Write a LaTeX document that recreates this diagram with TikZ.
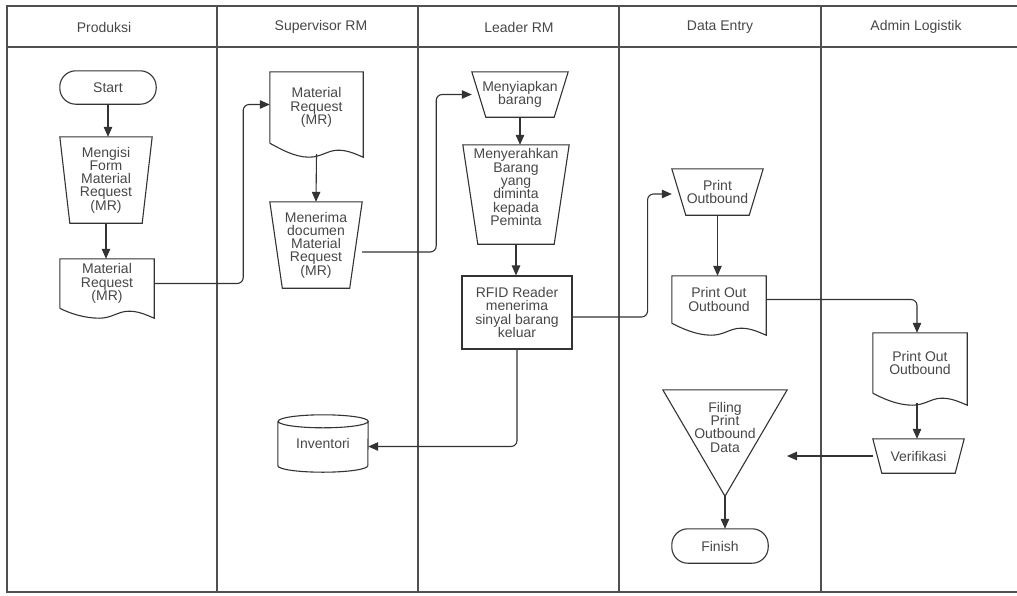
\documentclass[tikz,border=0pt]{standalone}
\usepackage{fontspec}
\setmainfont{Liberation Sans}
\usetikzlibrary{arrows.meta,calc}
\definecolor{ln}{HTML}{333333}
\definecolor{tx}{HTML}{474747}
\definecolor{lanec}{HTML}{505050}
% document shape outline: node name, drop of right end below node.south
\newcommand\docoutline[2]{%
  \draw[shp] (#1.south west) -- (#1.north west) -- (#1.north east) -- ([yshift=-#2pt]#1.south east)
    .. controls ($(#1.south west)!0.9!(#1.south east)+(0,{#2-4})$) and ($(#1.south west)!0.83!(#1.south east)+(0,{#2-7})$) ..
    ($(#1.south west)!0.73!(#1.south east)+(0,{#2-7})$)
    .. controls ($(#1.south west)!0.62!(#1.south east)+(0,{#2-7})$) and ($(#1.south west)!0.55!(#1.south east)+(0,{#2})$) ..
    ($(#1.south west)!0.42!(#1.south east)+(0,{#2})$)
    .. controls ($(#1.south west)!0.26!(#1.south east)+(0,{#2})$) and ($(#1.south west)!0.1!(#1.south east)+(0,5)$) ..
    (#1.south west);}
% manual-operation trapezoid: node name, inset of bottom corners
\newcommand\trapoutline[2]{%
  \draw[shp] (#1.north west) -- (#1.north east) -- ([xshift=-#2pt]#1.south east) -- ([xshift=#2pt]#1.south west) -- cycle;}
\begin{document}
\begin{tikzpicture}[x=1pt,y=-1pt,
  txt/.style={align=center,text=tx,font=\fontsize{14}{13.3}\selectfont,inner sep=0pt},
  shp/.style={draw=ln,line width=1.1pt,line join=miter},
  conn/.style={draw=ln,line width=1.1pt,rounded corners=6pt,-{Triangle[length=10pt,width=8.5pt]}},
  lanel/.style={draw=lanec,line width=2pt,line cap=rect}]
\useasboundingbox (0,0) rectangle (1017,595);
% swimlanes
\draw[lanel] (7,6) -- (1017,6);
\draw[lanel] (7,47) -- (1017,47);
\draw[lanel] (7,592) -- (1017,592);
\foreach \xx in {7,217,418,619,821} \draw[lanel] (\xx,6) -- (\xx,592);
\node[txt] (h1) at (104,27) {Produksi};
\node[txt] (h2) at (321,27) {Supervisor RM};
\node[txt] (h3) at (519,27) {Leader RM};
\node[txt] (h4) at (720,27) {Data Entry};
\node[txt] (h5) at (916,27) {Admin Logistik};
% Produksi
\node[txt,minimum width=96pt,minimum height=33pt] (start) at (108,87.5) {Start};
\draw[shp,rounded corners=16pt] (start.north west) rectangle (start.south east);
\node[txt,minimum width=92pt,minimum height=86pt] (mengisi) at (106,180) {Mengisi\\Form\\Material\\Request\\(MR)};
\trapoutline{mengisi}{10}
\node[txt,minimum width=94pt,minimum height=49pt] (mr1) at (107,283.5) {Material\\Request\\(MR)};
\docoutline{mr1}{10}
% Supervisor RM
\node[txt,minimum width=93pt,minimum height=71pt] (mr2) at (316.5,107.5) {Material\\Request\\(MR)};
\docoutline{mr2}{14}
\node[txt,minimum width=92pt,minimum height=86pt] (menerima) at (316,245) {Menerima\\documen\\Material\\Request\\(MR)};
\trapoutline{menerima}{12.5}
\node[txt,minimum width=90pt,minimum height=57pt] (inv) at (323,443.5) {Inventori};
\draw[shp] ([yshift=-6.5pt]inv.north west) -- ([yshift=6.5pt]inv.south west)
  arc[start angle=180,end angle=360,x radius=45pt,y radius=6.5pt]
  -- ([yshift=-6.5pt]inv.north east)
  arc[start angle=0,end angle=360,x radius=45pt,y radius=6.5pt];
% Leader RM
\node[txt,minimum width=96pt,minimum height=45pt] (menyiapkan) at (520,94.5) {Menyiapkan\\barang};
\trapoutline{menyiapkan}{14}
\node[txt,minimum width=106pt,minimum height=99pt,text depth=15pt] (menyerahkan) at (516,194.5) {Menyerahkan\\Barang\\yang\\diminta\\kepada\\Peminta};
\trapoutline{menyerahkan}{15}
\node[txt,draw=ln,line width=1.1pt,minimum width=110pt,minimum height=73pt] (rfid) at (517,312.5) {RFID Reader\\menerima\\sinyal barang\\keluar};
% Data Entry
\node[txt,minimum width=91pt,minimum height=46pt] (printob) at (717.5,192) {Print\\Outbound};
\trapoutline{printob}{14}
\node[txt,minimum width=94pt,minimum height=47pt] (poo1) at (719,299.5) {Print Out\\Outbound};
\docoutline{poo1}{12}
\node[txt,minimum width=124pt,minimum height=106pt,text depth=32pt] (filing) at (725,443) {Filing\\Print\\Outbound\\Data};
\draw[shp] (filing.north west) -- (filing.north east) -- (filing.south) -- cycle;
\node[txt,minimum width=96pt,minimum height=34pt] (finish) at (720,546) {Finish};
\draw[shp,rounded corners=16pt] (finish.north west) rectangle (finish.south east);
% Admin Logistik
\node[txt,minimum width=94pt,minimum height=60pt] (poo2) at (920,363) {Print Out\\Outbound};
\docoutline{poo2}{12}
\node[txt,minimum width=91pt,minimum height=34pt] (verif) at (918.5,456) {Verifikasi};
\trapoutline{verif}{9}
\coordinate (vend) at (787,456);
% connectors
\draw[conn] (start.south) -- (start.south |- mengisi.north);
\draw[conn] (mengisi.south) -- (mengisi.south |- mr1.north);
\draw[conn] (mr1.east) -- ++(89,0) |- ([yshift=3pt]mr2.west);
\draw[conn] ([yshift=-11pt]mr2.south) -- (menerima.north);
\draw[conn] ([yshift=-7pt]menerima.east) -- ++(74,0) |- (menyiapkan.west);
\draw[conn] (menyiapkan.south) -- (menyiapkan.south |- menyerahkan.north);
\draw[conn] (menyerahkan.south) -- (menyerahkan.south |- rfid.north);
\draw[conn] ([yshift=-4.5pt]rfid.east) -- ++(75,0) |- ([yshift=-2pt]printob.west);
\draw[conn] (rfid.south) |- ([yshift=-3pt]inv.east);
\draw[conn] (printob.south) -- (printob.south |- poo1.north);
\draw[conn] (poo1.east) -| ([xshift=-3pt]poo2.north);
\draw[conn] ([xshift=-3pt,yshift=-10pt]poo2.south) -- ([xshift=-3pt]poo2.south |- verif.north);
\draw[conn] (verif.west) -- (vend);
\draw[conn] (filing.south) -- (filing.south |- finish.north);
\end{tikzpicture}
\end{document}
